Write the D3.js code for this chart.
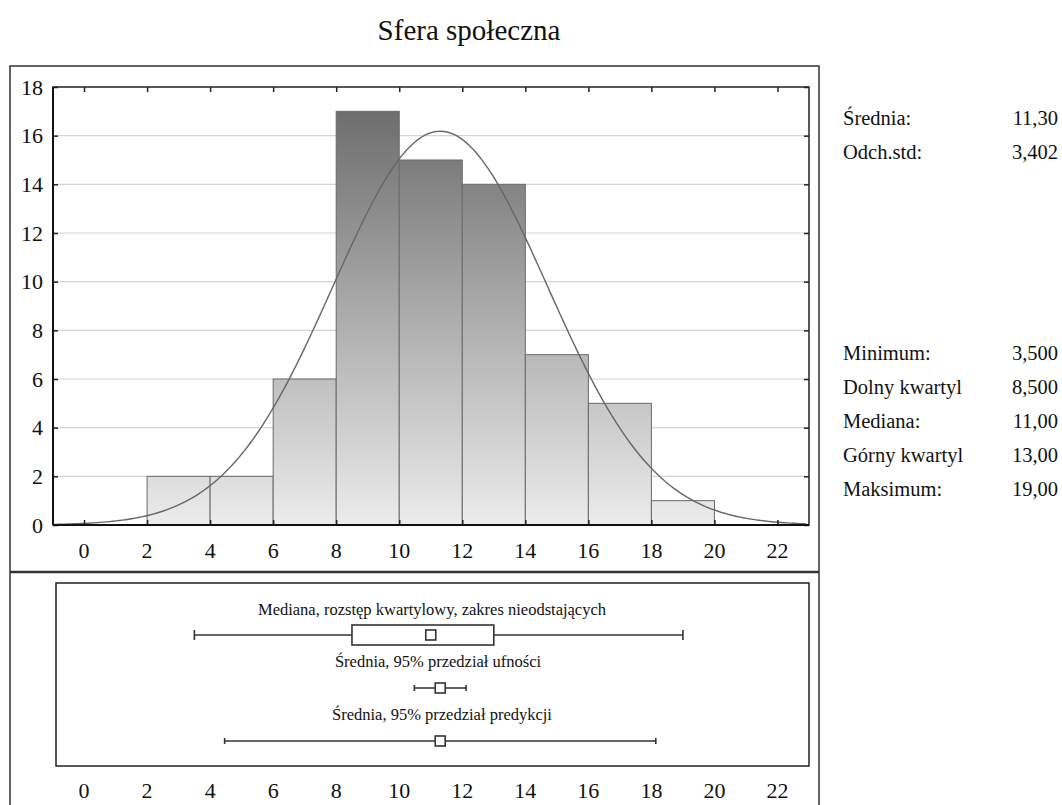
<!DOCTYPE html>
<html>
<head>
  <meta charset='utf-8'>
  <script src='https://cdn.jsdelivr.net/npm/d3@7'></script>
  <style>
    body { margin: 0; background: #fff; }
    svg text { font-family: 'Liberation Serif', 'Times New Roman', serif; fill: #111; }
  </style>
</head>
<body>
  <script>
    // histogram data
    const binStarts = [2, 4, 6, 8, 10, 12, 14, 16, 18]
    const binCounts = [2, 2, 6, 17, 15, 14, 7, 5, 1]
    const binWidth = 2
    const xTicks = [0, 2, 4, 6, 8, 10, 12, 14, 16, 18, 20, 22]
    const yTicks = [0, 2, 4, 6, 8, 10, 12, 14, 16, 18]

    // summary stats
    const mean = 11.30
    const sd = 3.402
    const n = 69
    const boxStats = [3.5, 8.5, 11, 13, 19] // min, q1, median, q3, max
    const ciMean = [10.48, 12.12]
    const piMean = [4.46, 18.14]

    const statLabels1 = ['Średnia:', 'Odch.std:']
    const statValues1 = ['11,30', '3,402']
    const statLabels2 = ['Minimum:', 'Dolny kwartyl', 'Mediana:', 'Górny kwartyl', 'Maksimum:']
    const statValues2 = ['3,500', '8,500', '11,00', '13,00', '19,00']

    const W = 1062, H = 805
    const svg = d3.select('body').append('svg').attr('width', W).attr('height', H)

    svg.append('text').attr('x', 469).attr('y', 40).attr('text-anchor', 'middle')
      .style('font-size', '29px').text('Sfera społeczna')

    // outer frame
    svg.append('rect').attr('x', 10).attr('y', 66).attr('width', 809).attr('height', 760)
      .attr('fill', 'none').attr('stroke', '#333').attr('stroke-width', 1.5)
    svg.append('line').attr('x1', 10).attr('x2', 819).attr('y1', 572).attr('y2', 572)
      .attr('stroke', '#333').attr('stroke-width', 2.5)

    const pL = 53, pR = 809, pT = 87, pB = 525
    const x = d3.scaleLinear([-0.985, 23.0], [pL, pR])
    const y = d3.scaleLinear([0, 18], [pB, pT])

    const defs = svg.append('defs')
    const grad = defs.append('linearGradient').attr('id', 'barGrad')
      .attr('gradientUnits', 'userSpaceOnUse')
      .attr('x1', 0).attr('x2', 0).attr('y1', y(0)).attr('y2', y(18))
    grad.append('stop').attr('offset', '0%').attr('stop-color', '#ececec')
    grad.append('stop').attr('offset', '100%').attr('stop-color', '#666666')

    // grid
    svg.append('g').selectAll('line').data(yTicks.filter(d => d > 0 && d < 18)).join('line')
      .attr('x1', pL).attr('x2', pR).attr('y1', d => y(d)).attr('y2', d => y(d))
      .attr('stroke', '#d4d4d4').attr('stroke-width', 1.2)

    // bars
    svg.append('g').selectAll('rect').data(binStarts).join('rect')
      .attr('x', d => x(d)).attr('width', d => x(d + binWidth) - x(d))
      .attr('y', (d, i) => y(binCounts[i])).attr('height', (d, i) => y(0) - y(binCounts[i]))
      .attr('fill', 'url(#barGrad)').attr('stroke', '#6a6a6a').attr('stroke-width', 1)

    // fitted normal curve
    const dens = v => n * binWidth / (sd * Math.sqrt(2 * Math.PI)) * Math.exp(-0.5 * ((v - mean) / sd) ** 2)
    const curveX = d3.range(x.domain()[0], x.domain()[1] + 0.001, 0.1)
    svg.append('path').datum(curveX)
      .attr('d', d3.line().x(d => x(d)).y(d => y(dens(d))))
      .attr('fill', 'none').attr('stroke', '#666').attr('stroke-width', 1.4)

    // axes
    const axB = svg.append('g').attr('transform', `translate(0,${pB})`)
      .call(d3.axisTop(x).tickValues(xTicks).tickSize(5).tickFormat(''))
    const axT = svg.append('g').attr('transform', `translate(0,${pT})`)
      .call(d3.axisBottom(x).tickValues(xTicks).tickSize(5).tickFormat(''))
    const axL = svg.append('g').attr('transform', `translate(${pL},0)`)
      .call(d3.axisRight(y).tickValues(yTicks).tickSize(5).tickFormat(''))
    const axR = svg.append('g').attr('transform', `translate(${pR},0)`)
      .call(d3.axisLeft(y).tickValues(yTicks).tickSize(5).tickFormat(''))
    ;[axB, axT, axL, axR].forEach(g => {
      g.select('.domain').remove()
      g.selectAll('line').attr('stroke', '#222').attr('stroke-width', 1.5)
    })
    svg.append('rect').attr('x', pL).attr('y', pT).attr('width', pR - pL).attr('height', pB - pT)
      .attr('fill', 'none').attr('stroke', '#222').attr('stroke-width', 1.5)
    svg.append('line').attr('x1', pL).attr('x2', pR).attr('y1', pB).attr('y2', pB)
      .attr('stroke', '#111').attr('stroke-width', 2)
    svg.append('line').attr('x1', pL).attr('x2', pL).attr('y1', pT).attr('y2', pB)
      .attr('stroke', '#111').attr('stroke-width', 2)

    svg.append('g').selectAll('text').data(yTicks).join('text')
      .attr('x', 43).attr('y', d => y(d) + 7.5).attr('text-anchor', 'end')
      .style('font-size', '22px').text(d => d)
    svg.append('g').selectAll('text').data(xTicks).join('text')
      .attr('x', d => x(d)).attr('y', 558).attr('text-anchor', 'middle')
      .style('font-size', '22px').text(d => d)

    // stats on the right
    const stats = (labels, values, y0) => {
      const g = svg.append('g')
      g.selectAll('.lab').data(labels).join('text').attr('class', 'lab')
        .attr('x', 843).attr('y', (d, i) => y0 + i * 34).style('font-size', '20.5px').text(d => d)
      g.selectAll('.val').data(values).join('text').attr('class', 'val')
        .attr('x', 1058).attr('y', (d, i) => y0 + i * 34).attr('text-anchor', 'end')
        .style('font-size', '20.5px').text(d => d)
    }
    stats(statLabels1, statValues1, 125)
    stats(statLabels2, statValues2, 360)

    // lower panel
    const bTop = 583, bBottom = 766
    svg.append('rect').attr('x', 56).attr('y', bTop).attr('width', pR - 56).attr('height', bBottom - bTop)
      .attr('fill', 'none').attr('stroke', '#222').attr('stroke-width', 1.5)
    svg.append('g').selectAll('text').data(xTicks).join('text')
      .attr('x', d => x(d)).attr('y', 798).attr('text-anchor', 'middle')
      .style('font-size', '22px').text(d => d)

    const ink = '#333'
    const cap = (g, v, cy, h) => g.append('line').attr('x1', x(v)).attr('x2', x(v))
      .attr('y1', cy - h).attr('y2', cy + h).attr('stroke', ink).attr('stroke-width', 1.6)
    const sq = (g, v, cy) => g.append('rect').attr('x', x(v) - 5).attr('y', cy - 5)
      .attr('width', 10).attr('height', 10).attr('fill', '#fff').attr('stroke', ink).attr('stroke-width', 1.6)
    const label = (t, tx, ty) => svg.append('text').attr('x', tx).attr('y', ty)
      .attr('text-anchor', 'middle').style('font-size', '16.5px').text(t)

    // box plot
    label('Mediana, rozstęp kwartylowy, zakres nieodstających', 432, 615)
    const gb = svg.append('g'), by = 635
    gb.append('line').attr('x1', x(boxStats[0])).attr('x2', x(boxStats[4])).attr('y1', by).attr('y2', by)
      .attr('stroke', ink).attr('stroke-width', 1.6)
    cap(gb, boxStats[0], by, 5); cap(gb, boxStats[4], by, 5)
    gb.append('rect').attr('x', x(boxStats[1])).attr('y', by - 10)
      .attr('width', x(boxStats[3]) - x(boxStats[1])).attr('height', 20)
      .attr('fill', '#fff').attr('stroke', ink).attr('stroke-width', 1.6)
    sq(gb, boxStats[2], by)

    // CI of mean
    label('Średnia, 95% przedział ufności', 438, 667)
    const gc = svg.append('g'), cy = 688
    gc.append('line').attr('x1', x(ciMean[0])).attr('x2', x(ciMean[1])).attr('y1', cy).attr('y2', cy)
      .attr('stroke', ink).attr('stroke-width', 1.6)
    cap(gc, ciMean[0], cy, 3); cap(gc, ciMean[1], cy, 3)
    sq(gc, mean, cy)

    // prediction interval
    label('Średnia, 95% przedział predykcji', 442, 720)
    const gp = svg.append('g'), py = 741
    gp.append('line').attr('x1', x(piMean[0])).attr('x2', x(piMean[1])).attr('y1', py).attr('y2', py)
      .attr('stroke', ink).attr('stroke-width', 1.6)
    cap(gp, piMean[0], py, 3); cap(gp, piMean[1], py, 3)
    sq(gp, mean, py)
  </script>
</body>
</html>
